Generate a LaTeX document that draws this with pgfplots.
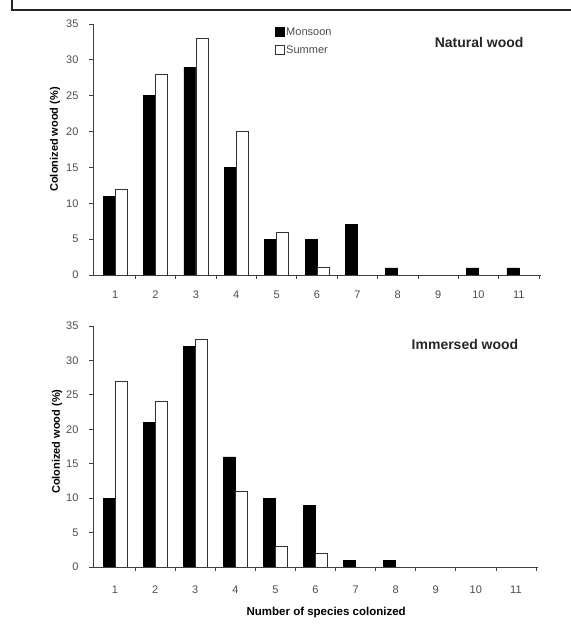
\documentclass[border=0pt]{standalone}
\usepackage{pgfplots}
\pgfplotsset{compat=1.18}
\usepackage{fontspec}
\setmainfont{Liberation Sans}
\pgfplotsset{
  mystyle/.style={
    scale only axis,
    axis lines=left,
    axis line style={-, line width=0.8pt, black!75},
    ymin=0, ymax=35, xmin=0.45, xmax=11.55,
    ytick={0,5,...,35},
    xtick={1.5,2.5,...,11.5},
    xticklabels={},
    extra x ticks={1,2,3,4,5,6,7,8,9,10,11},
    extra x tick labels={1,2,3,4,5,6,7,8,9,10,11},
    extra x tick style={tick style={draw=none}},
    tick align=outside,
    major tick length=4pt,
    tick style={black!75, line width=0.8pt},
    /pgf/number format/assume math mode=true,
    tick label style={font=\fontsize{11}{13}\selectfont, text=black!70},
    xticklabel style={yshift=-8pt},
    yticklabel style={xshift=-7pt},
    ylabel={Colonized wood (\%)},
    ylabel style={font=\bfseries\fontsize{11}{13}\selectfont, anchor=center},
    bar width=12pt,
  },
  mon/.style={ybar, bar shift=-6pt, fill=black, draw=black, line width=0.6pt},
  sum/.style={ybar, bar shift=6pt, fill=white, draw=black!80, line width=0.7pt},
}
\begin{document}
\begin{tikzpicture}
\path[use as bounding box] (0,0) rectangle (571pt,625pt);
\draw[line width=1.2pt, black!85] (12pt,625pt) -- (12pt,615pt) -- (571pt,615pt);
% top axis
\begin{axis}[mystyle, at={(93pt,350pt)}, anchor=south west,
  width=448pt, height=251pt,
  ylabel style={at={(axis description cs:-0.085,0.54)}},
  legend style={at={(rel axis cs:0.405,0.995)}, anchor=north west, draw=none, fill=none,
    font=\fontsize{11}{13}\selectfont, text=black!70, row sep=5pt,
    inner sep=0pt, cells={anchor=west}},
  legend image code/.code={\draw[#1, line width=0.6pt] (0pt,-4.5pt) rectangle (9pt,4.5pt);},
]
\addplot[mon] coordinates {(1,11)(2,25)(3,29)(4,15)(5,5)(6,5)(7,7)(8,1)(10,1)(11,1)};
\addlegendentry{Monsoon}
\addplot[sum] coordinates {(1,12)(2,28)(3,33)(4,20)(5,6)(6,1)};
\addlegendentry{Summer}
\node[font=\bfseries\fontsize{14}{17}\selectfont, text=black!85] at (rel axis cs:0.862,0.928) {Natural wood};
\end{axis}
% bottom axis
\begin{axis}[mystyle, at={(93pt,58pt)}, anchor=south west,
  width=445pt, height=241pt,
  ylabel style={at={(axis description cs:-0.081,0.52)}},
  xlabel={Number of  species colonized},
  xlabel style={font=\bfseries\fontsize{11.5}{13}\selectfont, at={(axis description cs:0.524,-0.19)}, anchor=center},
  xticklabel style={yshift=-3pt},
]
\addplot[mon] coordinates {(1,10)(2,21)(3,32)(4,16)(5,10)(6,9)(7,1)(8,1)};
\addplot[sum] coordinates {(1,27)(2,24)(3,33)(4,11)(5,3)(6,2)};
\node[font=\bfseries\fontsize{14}{17}\selectfont, text=black!85] at (rel axis cs:0.836,0.925) {Immersed wood};
\end{axis}
\end{tikzpicture}
\end{document}
